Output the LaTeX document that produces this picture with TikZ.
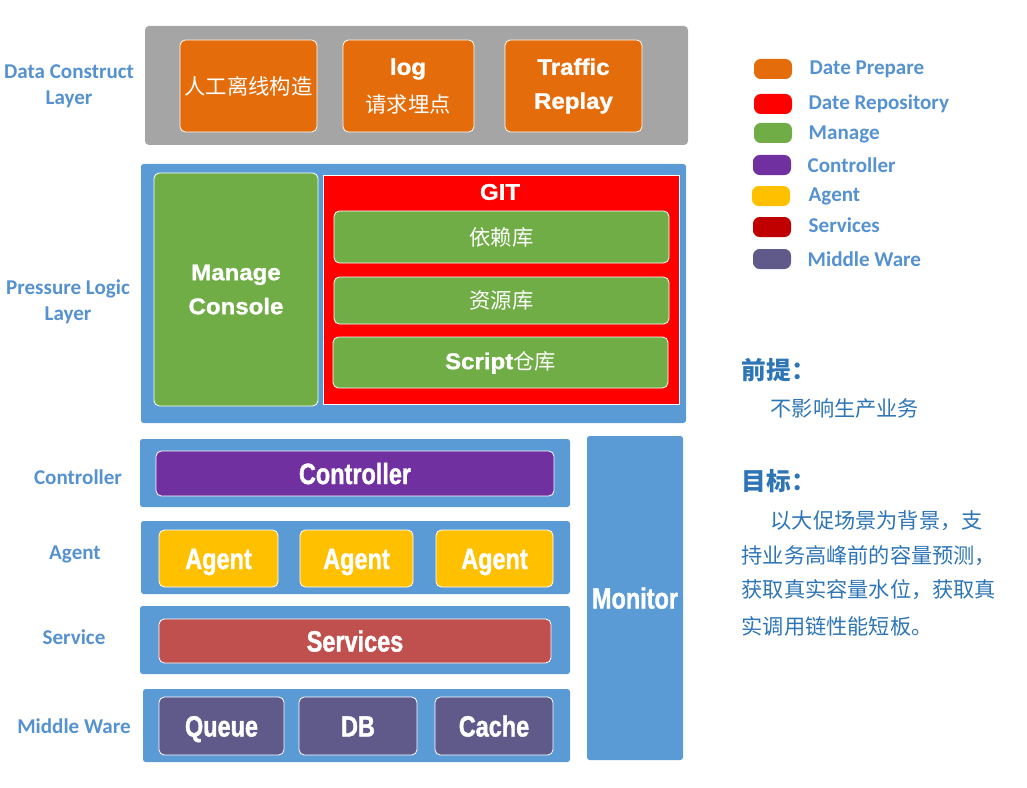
\documentclass[tikz,border=0pt]{standalone}
\usepackage{fontspec}
\setmainfont{Liberation Sans}
\newfontfamily\carlito{Carlito}
\newfontfamily\cjk{Noto Sans CJK SC}
\newfontfamily\cond[FakeStretch=0.8,FakeBold=1.3]{Liberation Sans}
\newfontfamily\wideb[FakeStretch=1.06,FakeBold=1.2]{Liberation Sans}
\definecolor{labblue}{HTML}{5592CF}
\definecolor{txtblue}{HTML}{2E75B6}
\definecolor{layblue}{HTML}{5B9BD5}
\definecolor{laygray}{HTML}{A5A5A5}
\definecolor{corange}{HTML}{E46C0A}
\definecolor{cred}{HTML}{FF0000}
\definecolor{cgreen}{HTML}{70AD47}
\definecolor{cpurple}{HTML}{7030A0}
\definecolor{cyellow}{HTML}{FFC000}
\definecolor{cdred}{HTML}{C00000}
\definecolor{cserv}{HTML}{C0504D}
\definecolor{cmw}{HTML}{605A8A}
\newcommand\RBox[7]{\node[#6, minimum width={(#4-#2)*0.75pt}, minimum height={(#5-#3)*0.75pt}] (#1) at ({(#2+#4)/2},{(#3+#5)/2}) {#7};}
\tikzset{
  layer/.style={fill=layblue, rounded corners=2pt, inner sep=0pt},
  box/.style={draw=white, line width=0.6pt, rounded corners=4pt, inner sep=0pt, text=white, align=center},
  boxtxt/.style={font=\fontsize{17}{25.5}\selectfont\wideb\bfseries},
  condtxt/.style={font=\fontsize{22}{26}\selectfont\cond\bfseries, text height=15.8pt, text depth=0pt},
  cjktxt/.style={font=\fontsize{16}{20}\selectfont\cjk},
  lab/.style={text=labblue, font=\fontsize{15.8}{19.5}\selectfont\carlito\bfseries, align=center},
  sw/.style={rounded corners=5pt, minimum width=28.5pt, minimum height=15pt, inner sep=0pt},
  legtxt/.style={text=labblue, font=\fontsize{15.8}{18}\selectfont\carlito\bfseries, anchor=west},
  rtxt/.style={text=txtblue, anchor=west, font=\fontsize{15.9}{20}\selectfont\cjk},
  rhead/.style={text=txtblue, anchor=west, font=\fontsize{18.5}{22}\selectfont\cjk\bfseries},
}
\begin{document}
\begin{tikzpicture}[x=0.75pt,y=-0.75pt]
\useasboundingbox (0,0) rectangle (1027,788);

% Data construct layer
\RBox{dcl}{145}{26}{688}{145}{fill=laygray, rounded corners=3pt, inner sep=0pt}{}
\RBox{manual}{180}{40}{317}{132}{box, fill=corange, cjktxt}{人工离线构造}
\RBox{logbox}{343}{40}{474}{132}{box, fill=corange}{}
\node[text=white, boxtxt] (logt) at (408,69) {log};
\node[text=white, cjktxt] (logc) at (408,104) {请求埋点};
\RBox{traffic}{505}{40}{642}{132}{box, fill=corange, boxtxt}{Traffic\\Replay}
\node[lab] (l1) at (69,86) {Data Construct\\Layer};

% Pressure logic layer
\RBox{pll}{141}{164}{686}{423}{layer}{}
\RBox{mc}{154}{173}{318}{406}{box, fill=cgreen, boxtxt}{Manage\\Console}
\RBox{git}{323}{175}{679}{404}{fill=cred, inner sep=0pt, draw=white, line width=0.4pt}{}
\node[text=white, boxtxt] (gitt) at (500,192) {GIT};
\RBox{dep}{334}{211}{669}{263}{box, fill=cgreen, cjktxt}{依赖库}
\RBox{res}{334}{277}{669}{324}{box, fill=cgreen, cjktxt}{资源库}
\RBox{scr}{333}{337}{668}{388}{box, fill=cgreen}{\fontsize{17}{20}\selectfont\wideb\bfseries Script\cjk\mdseries\fontsize{16}{20}\selectfont 仓库}
\node[lab] (l2) at (68,302) {Pressure Logic\\Layer};

% Controller
\RBox{ctl}{140}{439}{570}{507}{layer}{}
\RBox{ctlb}{156}{451}{554}{496}{box, fill=cpurple, condtxt}{Controller}
\node[lab] (l3) at (78,477) {Controller};

% Agent
\RBox{agl}{141}{521}{570}{594}{layer}{}
\RBox{ag1}{159}{530}{278}{587}{box, fill=cyellow, condtxt}{Agent}
\RBox{ag2}{300}{530}{413}{587}{box, fill=cyellow, condtxt}{Agent}
\RBox{ag3}{436}{530}{553}{587}{box, fill=cyellow, condtxt}{Agent}
\node[lab] (l4) at (75,554) {Agent};

% Service
\RBox{svl}{140}{606}{570}{674}{layer}{}
\RBox{svc}{159}{619}{551}{663}{box, fill=cserv, condtxt}{Services}
\node[lab] (l5) at (74,637) {Service};

% Middle ware
\RBox{mwl}{143}{689}{570}{762}{layer}{}
\RBox{queue}{159}{697}{284}{755}{box, fill=cmw, condtxt}{Queue}
\RBox{db}{299}{697}{417}{755}{box, fill=cmw, condtxt}{DB}
\RBox{cache}{435}{697}{553}{755}{box, fill=cmw, condtxt}{Cache}
\node[lab] (l6) at (74,726) {Middle Ware};

% Monitor
\RBox{mon}{587}{436}{683}{760}{layer, text=white, condtxt}{Monitor}

% Legend
\node[sw, fill=corange] (s1) at (773,69) {};
\node[sw, fill=cred] (s2) at (773,104) {};
\node[sw, fill=cgreen] (s3) at (773,133) {};
\node[sw, fill=cpurple] (s4) at (772,165) {};
\node[sw, fill=cyellow] (s5) at (771,196) {};
\node[sw, fill=cdred] (s6) at (772,227) {};
\node[sw, fill=cmw] (s7) at (772,259) {};
\node[legtxt] (t1) at (805,69) {Date Prepare};
\node[legtxt] (t2) at (804,104) {Date Repository};
\node[legtxt] (t3) at (804,134) {Manage};
\node[legtxt] (t4) at (803,165) {Controller};
\node[legtxt] (t5) at (804,196) {Agent};
\node[legtxt] (t6) at (804,225) {Services};
\node[legtxt] (t7) at (803,259) {Middle Ware};

% Right text
\node[rhead] (h1) at (737,370) {前提：};
\node[rtxt] (p1) at (766,408) {不影响生产业务};
\node[rhead] (h2) at (737,481) {目标：};
\node[rtxt] (q1) at (766,521) {以大促场景为背景，支};
\node[rtxt] (q2) at (737,556) {持业务高峰前的容量预测，};
\node[rtxt] (q3) at (737,590) {获取真实容量水位，获取真};
\node[rtxt] (q4) at (737,626) {实调用链性能短板。};
\end{tikzpicture}
\end{document}
